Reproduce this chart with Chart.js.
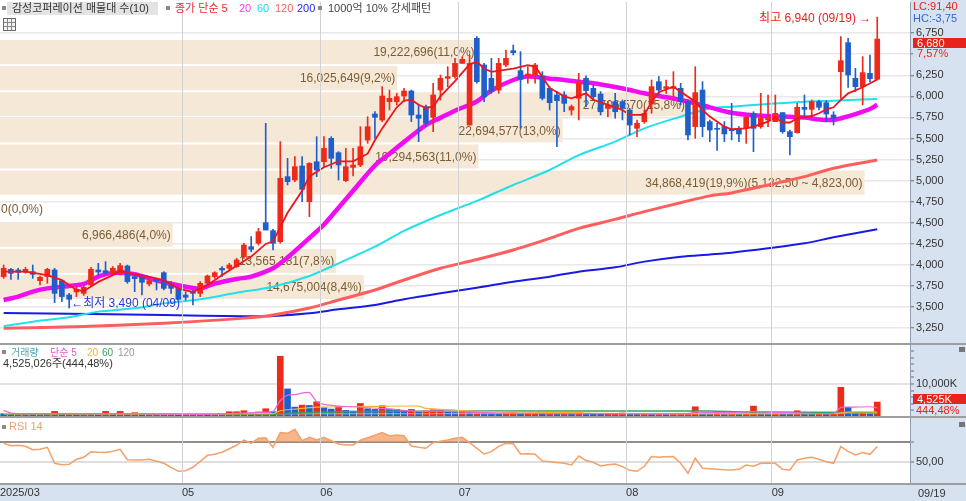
<!DOCTYPE html>
<html lang="ko"><head><meta charset="utf-8"><title>감성코퍼레이션</title>
<script src="https://cdn.jsdelivr.net/npm/chart.js@4.4.1/dist/chart.umd.min.js"></script>
<style>
html,body{margin:0;padding:0;background:#fff;}
body{width:966px;height:501px;overflow:hidden;position:relative;font-family:"Liberation Sans","Noto Sans CJK KR",sans-serif;}
.bg{position:absolute;background:#D7E2F0;}
canvas{position:absolute;left:0;}
.sep{position:absolute;left:0;width:966px;height:2px;background:#9e9e9e;}
.t{position:absolute;white-space:nowrap;font-size:11px;line-height:13px;}
.sq{position:absolute;width:4px;height:4px;background:#8a8a8a;}
.box{position:absolute;background:#E8231C;}
</style></head><body>
<div class="bg" style="left:910px;top:0;width:56px;height:501px"></div>
<div class="bg" style="left:0;top:484px;width:966px;height:17px"></div>
<canvas id="cP" width="966" height="344" style="top:0"></canvas>
<canvas id="cV" width="966" height="73" style="top:344px"></canvas>
<canvas id="cR" width="966" height="84" style="top:417px"></canvas>
<div class="sep" style="top:343px"></div>
<div class="sep" style="top:416px"></div>
<div class="sep" style="top:483px"></div>

<div class="sq" style="left:2px;top:6px"></div>
<div class="t" style="left:7px;top:2px;width:151px;height:13px;background:#E3E3E3;"></div>
<div class="t" style="left:12px;top:2px;color:#333">감성코퍼레이션 매물대 수(10)</div>
<div class="sq" style="left:166px;top:6px"></div>
<div class="t" style="left:175px;top:2px;color:#F0282A">종가 단순 5</div>
<div class="t" style="left:239px;top:2px;color:#F43CF4">20</div>
<div class="t" style="left:257px;top:2px;color:#22D8E8">60</div>
<div class="t" style="left:275px;top:2px;color:#F46464">120</div>
<div class="t" style="left:297px;top:2px;color:#2828F0">200</div>
<div class="sq" style="left:318px;top:6px"></div>
<div class="t" style="left:328px;top:2px;color:#444">1000억 10% 강세패턴</div>
<div style="position:absolute;left:3px;top:18px;width:11px;height:11px;border:1px solid #6a6a6a;background:#f2f2f2;background-image:linear-gradient(90deg,transparent 3px,#888 3px,#888 4px,transparent 4px,transparent 7px,#888 7px,#888 8px,transparent 8px),linear-gradient(0deg,transparent 3px,#888 3px,#888 4px,transparent 4px,transparent 7px,#888 7px,#888 8px,transparent 8px);"></div>

<div class="t" style="left:913px;top:0px;color:#E8231C">LC:91,40</div>
<div class="t" style="left:913px;top:12px;color:#2F66D0">HC:-3,75</div>
<div class="box" style="left:913px;top:38px;width:53px;height:10px"></div>
<div class="t" style="left:917px;top:37px;color:#fff;line-height:12px">6,680</div>
<div class="t" style="left:913px;top:48px;width:53px;padding-left:4px;box-sizing:border-box;height:12px;line-height:11px;background:#D7E2F0;color:#E8231C">7,57%</div>

<div class="sq" style="left:2px;top:350px"></div>
<div class="t" style="left:11px;top:346px;font-size:10px;color:#4AA6B4">거래량</div>
<div class="t" style="left:50px;top:346px;font-size:10px;color:#E458D2">단순 5</div>
<div class="t" style="left:87px;top:346px;font-size:10px;color:#F0B43A">20</div>
<div class="t" style="left:102px;top:346px;font-size:10px;color:#3C9E5A">60</div>
<div class="t" style="left:118px;top:346px;font-size:10px;color:#999">120</div>
<div class="t" style="left:3px;top:357px;color:#333">4,525,026주(444,48%)</div>
<div class="box" style="left:913px;top:394px;width:53px;height:10px"></div>
<div class="t" style="left:917px;top:393px;color:#fff;line-height:12px">4,525K</div>
<div class="t" style="left:916px;top:404px;color:#E8231C">444,48%</div>
<div style="position:absolute;left:959px;top:347px;width:6px;height:5px;background:#777"></div>

<div class="sq" style="left:2px;top:425px"></div>
<div class="t" style="left:9px;top:420px;color:#F0A070">RSI 14</div>
<div style="position:absolute;left:959px;top:422px;width:6px;height:5px;background:#777"></div>
<div class="t" style="left:918px;top:487px;color:#333">09/19</div>

<script>
// ---------------- data ----------------
const monthStartIdx = [0, 25, 44, 63, 86, 106];
const monthLabels = ['2025/03', '05', '06', '07', '08', '09'];
const priceTicks = [3250,3500,3750,4000,4250,4500,4750,5000,5250,5500,5750,6000,6250,6500,6750];
const volTicks = [2000,4000,6000,8000,10000,12000,14000,16000,18000,20000];
const volMajorTick = 10000;
const rsiTicks = [50, 70];

const opens = [3862,3949,3941,3917,3921,3814,3862,3941,3814,3644, 3680,3664,3763,3941,3933,3909,3901,3988,3862,3862,
  3775,3830,3909,3763,3723,3644,3684,3664,3783,3862, 3961,3961,3980,4099,4217,4257,4502,4407,4277,5048,
  5008,5174,4751,5225,5225,5502,5332,5000,5158,5186, 5482,5791,5720,5937,5937,6004,6063,5779,5878,5751,
  6075,6214,6234,6391,5660,6688,6372,6214,6075,6372, 6542,6305,6242,6253,6242,6095,6016,6016,5838,5977,
  6214,6095,6028,5858,5937,5937,5838,5621,5700,5909, 6174,6095,6095,6095,5937,5641,6075,5700,5621,5641,
  5609,5609,5621,5799,5641,5720,5700,5807,5581,5569, 5870,5846,5937,5925,5779,6293,6637,6214,6115,6273, 6202];
const highs = [4000,3961,3961,3972,4000,3870,3961,3961,3822,3664, 3743,3751,3972,4020,4040,3980,4020,4000,3882,3870,
  3842,3842,3921,3803,3735,3684,3704,3803,3882,3921, 3980,4020,4079,4257,4336,4435,5680,4423,5463,5265,
  5285,5285,5214,5522,5522,5522,5344,5384,5384,5640, 5759,5818,6115,6075,6036,6095,6075,5898,5898,6155,
  6253,6352,6451,6471,6490,6708,6392,6451,6451,6550, 6609,6530,6352,6392,6293,6115,6056,6056,5898,6273,
  6242,6135,6056,5937,6036,5957,5858,5720,5838,6194, 6234,6194,6293,6155,5957,6352,6174,5720,5680,5700,
  5917,5641,5759,5818,6036,6016,6016,5807,5601,5917, 6016,5957,5957,5949,5818,6708,6688,6332,6471,6490, 6940];
const lows = [3842,3830,3830,3901,3842,3763,3783,3553,3565,3490, 3625,3640,3743,3882,3882,3890,3882,3783,3684,3644,
  3751,3704,3704,3664,3585,3585,3526,3625,3763,3842, 3862,3941,3972,4079,4158,4237,4415,4178,4257,4949,
  4988,4751,4573,5048,5166,5146,5008,4988,5056,5166, 5443,5502,5700,5838,5898,5937,5700,5463,5641,5581,
  5957,6115,6214,6391,5660,6155,5937,6036,6036,6352, 6490,5621,6155,6155,5957,5838,5404,5818,5779,5720,
  5878,5957,5779,5759,5740,5720,5542,5522,5680,5799, 6016,6036,5996,5898,5482,5502,5522,5462,5360,5463,
  5483,5463,5443,5344,5621,5641,5700,5562,5305,5562, 5759,5759,5838,5700,5660,5977,6107,6056,5898,6174, 6194];
const closes = [3961,3901,3913,3949,3889,3854,3949,3664,3625,3593, 3712,3735,3949,3917,3909,3961,3992,3803,3838,3795,
  3814,3814,3723,3723,3593,3617,3664,3783,3870,3909, 3941,4000,4060,4237,4186,4395,4415,4257,5028,4988,
  5166,4897,5206,5127,5384,5265,5186,5166,5186,5403, 5640,5751,6004,5977,5996,6063,5779,5740,5680,6016,
  6214,6234,6391,6439,6391,6174,5996,6056,6391,6451, 6518,6202,6265,6372,5977,5925,5949,5917,5878,6162,
  6068,5996,5818,5898,5818,5858,5660,5680,5799,6115, 6075,6115,6115,5937,5542,6044,5641,5601,5609,5554,
  5593,5554,5751,5621,5739,5739,5799,5581,5522,5870, 5846,5937,5870,5791,5740,6423,6253,6115,6281,6210, 6680];
// volume in thousands of shares
const volK = [1000,800,800,900,800,800,900,1700,800,900, 800,800,900,800,1700,900,1700,900,1300,700,
  700,700,700,700,600,600,700,700,600,700, 700,1600,1600,1900,1000,1500,2500,1600,18400,8500,
  3000,3600,3500,4600,2800,2400,3100,2000,1800,4100, 2500,2300,3400,2400,2300,2000,2300,1600,1800,2200,
  2200,1500,1400,1700,1400,1600,1500,1100,1000,1200, 1300,1000,1000,1100,1000,1100,1000,1000,900,1300,
  1000,900,800,900,1000,1200,900,800,900,800, 900,800,800,800,1100,3100,1000,900,1100,1000,
  1100,900,1000,3300,1100,1000,1100,1000,900,1900, 1200,1000,1000,900,1200,9000,2900,1100,1200,1018, 4525];
const rsi14 = [69,66.5,67,66,62.5,63,65,49,47.5,48, 53,55,60.5,60,59.7,61,63,52.5,52.3,52.3,
  53,51,49,45,41,41.5,45,51,57,58, 60,63.5,67,72.3,69,74,74.5,65,79.7,79,
  83,71.7,75,72.3,75,71.5,68.3,67.3,67.3,72, 74.5,77,79.7,76.3,77.3,76.5,66.3,65,64,69.7,
  71,72.3,74,75,69.7,64,58.3,60.7,66,69, 68.5,58.3,58.5,58,51.3,50.5,49.7,49,47.3,56.3,
  51.7,50,46.3,47.5,48.3,45.7,42,41,46,55.7, 55,55.5,55.7,49,39,54,44,43.5,43,42.5,
  42.3,43,47.3,46,49,49.3,49,43,42.3,52.3, 54,55,53,50.7,49,65.7,61,57.3,59.7,58,65.7];

// moving averages: [candle index, value]
const ma5Pts = [[0,3921],[3,3921],[6,3880],[8,3820],[10,3705],[11,3690],[13,3800],[15,3880],[16,3935],[18,3890],[20,3860],[22,3820],[24,3720],[26,3680],[28,3760],[30,3880],[32,3990],[34,4100],[36,4250],[37,4280],[38,4450],[39,4620],[41,4880],[42,5050],[44,5160],[46,5230],[48,5230],[50,5320],[51,5480],[52,5620],[54,5870],[55,5950],[56,5960],[57,5900],[58,5860],[59,5880],[60,6000],[62,6180],[64,6380],[65,6410],[66,6330],[67,6290],[70,6330],[72,6370],[73,6352],[74,6234],[75,6100],[77,6000],[78,5976],[80,6036],[81,5960],[83,5900],[85,5838],[86,5780],[88,5780],[89,5937],[90,6050],[92,6115],[93,6056],[95,5937],[96,5838],[97,5760],[99,5640],[100,5610],[102,5620],[103,5640],[105,5700],[106,5750],[107,5690],[108,5690],[109,5740],[111,5767],[112,5800],[113,5846],[114,5870],[115,5957],[116,6036],[118,6108],[120,6200]];
const ma20Pts = [[0,3585],[2,3625],[4,3684],[6,3723],[9,3751],[11,3775],[13,3862],[15,3905],[18,3890],[20,3842],[22,3795],[25,3743],[27,3723],[29,3780],[32,3835],[34,3862],[37,3961],[39,4090],[42,4320],[44,4480],[46,4680],[48,4880],[51,5180],[53,5320],[55,5460],[58,5660],[60,5745],[62,5830],[65,5940],[67,6070],[70,6194],[72,6234],[75,6210],[77,6194],[79,6174],[81,6155],[84,6110],[86,6075],[88,6036],[91,5990],[93,5957],[95,5917],[97,5870],[100,5805],[103,5775],[107,5760],[110,5748],[112,5725],[114,5720],[115,5740],[117,5790],[119,5850],[120,5900]];
const ma60Pts = [[0,3275],[4,3328],[9,3380],[13,3447],[18,3486],[22,3545],[27,3593],[32,3670],[37,3743],[42,3870],[46,4020],[51,4217],[55,4405],[60,4593],[65,4760],[70,4949],[75,5127],[79,5304],[84,5463],[88,5621],[93,5759],[97,5855],[100,5878],[105,5909],[110,5937],[114,5949],[120,5969]];
const ma120Pts = [[0,3250],[11,3270],[22,3310],[33,3370],[37,3407],[42,3490],[46,3585],[51,3704],[55,3822],[60,3961],[65,4065],[70,4178],[75,4316],[79,4435],[84,4541],[88,4633],[93,4739],[97,4820],[100,4855],[105,4949],[110,5048],[114,5147],[120,5245]];
const ma200Pts = [[0,3432],[6,3425],[12,3418],[22,3407],[33,3392],[37,3395],[42,3427],[46,3474],[51,3526],[55,3593],[60,3664],[65,3730],[70,3802],[75,3862],[79,3921],[84,3972],[88,4040],[93,4099],[97,4125],[100,4146],[105,4198],[110,4257],[114,4328],[120,4423]];

const vma5Pts = [[0,2000],[1,1200],[4,1000],[18,1000],[27,800],[31,1000],[35,1400],[37,1700],[38,5000],[39,6600],[40,6800],[42,7400],[43,4600],[44,3800],[46,3300],[48,3100],[50,2800],[52,2600],[54,2200],[57,1700],[60,1800],[64,1500],[68,1200],[75,1050],[85,1000],[94,1000],[95,1500],[99,1300],[103,1600],[108,1300],[114,1100],[115,2900],[117,3000],[119,3100],[120,2800]];
const vma20Pts = [[0,1000],[37,1000],[38,1900],[40,2400],[43,3000],[50,3200],[57,3300],[58,2600],[62,2100],[66,1600],[78,1300],[85,1000],[114,1000],[116,1500],[120,1500]];
const vma60Pts = [[0,900],[37,900],[41,1300],[47,1600],[66,1800],[97,1800],[102,1500],[120,1400]];
const vma120Pts = [[0,850],[60,1000],[120,1200]];

// volume-at-price bands (매물대 10)
const vpLow  = [3585, 3894.5, 4204, 4513.5, 4823, 5132.5, 5442, 5751.5, 6061, 6370.5];
const vpHigh = [3894.5, 4204, 4513.5, 4823, 5132.5, 5442, 5751.5, 6061, 6370.5, 6680];
const vpVol  = [14675004, 13565181, 6966486, 0, 34868419, 19294563, 22694577, 27706570, 16025649, 19222696];
const vpPct  = [8.4, 7.8, 4.0, 0.0, 19.9, 11.0, 13.0, 15.8, 9.2, 11.0];
const hiDate = '09/19', loDate = '04/09';

// ---------------- drawing ----------------
const FONT = '"Liberation Sans","Noto Sans CJK KR",sans-serif';
Chart.defaults.font.family = FONT;
const RED = '#EE2A1B', BLUE = '#1F5FCC';
const X_MIN = -0.5, X_MAX = 124.5;
const fmt = n => Math.round(n).toLocaleString('en-US');
const fmtDec = (n, d) => { const [ip, dp] = n.toFixed(d).split('.'); return Number(ip).toLocaleString('en-US') + ',' + dp; };
const pts = arr => arr.map(([x, y]) => ({x, y}));
const candleColors = opens.map((o, i) => closes[i] >= o ? RED : BLUE);
const volColors = volK.map((v, i) => (i > 0 && v >= volK[i - 1]) ? RED : BLUE);
const noPad = s => { s.paddingLeft = 0; s.paddingRight = 0; s.paddingTop = 0; s.paddingBottom = 0; };

function xAxis(showLabels) {
  const vals = monthStartIdx.map(i => i - 0.5);
  return {
    type: 'linear', min: X_MIN, max: X_MAX, offset: false,
    afterBuildTicks: s => { s.ticks = vals.map(v => ({value: v})); },
    afterFit: s => { s.height = showLabels ? 18 : 0; noPad(s); },
    grid: { offset: false, drawTicks: false, z: 1, lineWidth: 1,
      color: c => (c.tick && c.tick.value > X_MIN) ? '#d2d2d2' : 'rgba(0,0,0,0)' },
    border: { display: false },
    ticks: { display: showLabels, autoSkip: false, maxRotation: 0, align: 'start', padding: 3,
      color: '#333', font: {size: 11}, callback: (v, i) => monthLabels[i] }
  };
}
function yAxis(min, max, tickVals, labelFn, gridColor, gridWidth) {
  return {
    position: 'right', min, max,
    afterBuildTicks: s => { s.ticks = tickVals.map(v => ({value: v})); },
    afterFit: s => { s.width = 56; noPad(s); },
    grid: { color: gridColor, lineWidth: gridWidth, drawTicks: true, tickLength: 4, tickColor: '#6d6d6d', tickWidth: 1 },
    border: { display: true, color: '#8f9cb0', width: 1 },
    ticks: { autoSkip: false, padding: 2, color: '#333', font: {size: 11}, callback: labelFn }
  };
}
const common = { responsive: false, animation: false, events: [],
  plugins: { legend: { display: false }, tooltip: { enabled: false } } };

const vpPlugin = {
  id: 'vp',
  beforeDatasetsDraw(chart) {
    const {ctx, chartArea: a, scales: {y}} = chart;
    const maxV = Math.max(...vpVol);
    ctx.save();
    ctx.beginPath(); ctx.rect(a.left, a.top, a.right - a.left, a.bottom - a.top); ctx.clip();
    ctx.font = '12px ' + FONT; ctx.textBaseline = 'middle';
    vpVol.forEach((v, k) => {
      const yTop = y.getPixelForValue(vpHigh[k]) + 1;
      const yBot = y.getPixelForValue(vpLow[k]) - 1;
      const w = v / maxV * 0.95 * (a.right - a.left);
      if (w > 0) { ctx.fillStyle = '#F6E8D6'; ctx.fillRect(a.left, yTop, w, yBot - yTop); }
      let label = fmt(v) + '(' + fmtDec(vpPct[k], 1) + '%)';
      if (v === maxV) label += '(' + fmtDec(vpHigh[k], 2) + ' ~ ' + fmtDec(vpLow[k], 2) + ')';
      const tw = ctx.measureText(label).width;
      ctx.fillStyle = '#7C5C34';
      const ym = (yTop + yBot) / 2 + 1;
      if (w > tw + 4) { ctx.textAlign = 'right'; ctx.fillText(label, a.left + w - 2, ym); }
      else { ctx.textAlign = 'left'; ctx.fillText(label, a.left + 1, ym); }
    });
    ctx.restore();
  }
};
const hiLoPlugin = {
  id: 'hilo',
  afterDraw(chart) {
    const {ctx, scales: {x, y}} = chart;
    const hi = Math.max(...highs), hiI = highs.indexOf(hi);
    const lo = Math.min(...lows), loI = lows.indexOf(lo);
    ctx.save(); ctx.font = '12px ' + FONT; ctx.textBaseline = 'middle';
    ctx.fillStyle = '#E8231C'; ctx.textAlign = 'right';
    ctx.fillText('최고 ' + fmt(hi) + ' (' + hiDate + ') →', x.getPixelForValue(hiI) - 6, y.getPixelForValue(hi) + 2);
    ctx.fillStyle = '#2A35D8'; ctx.textAlign = 'left';
    ctx.fillText('←최저 ' + fmt(lo) + ' (' + loDate + ')', x.getPixelForValue(loI) + 2, y.getPixelForValue(lo) - 4);
    ctx.restore();
  }
};
const lineDs = (data, color, width, order, tension) => ({ type: 'line', data: pts(data), borderColor: color,
  borderWidth: width, pointRadius: 0, tension: tension, order: order, fill: false });

// price panel
new Chart(document.getElementById('cP'), {
  type: 'bar',
  data: { datasets: [
    lineDs(ma5Pts, '#F0141E', 1.8, 1, 0),
    { type: 'bar', data: opens.map((o, i) => ({x: i, y: [o, closes[i]]})), backgroundColor: candleColors,
      barThickness: 5, grouped: false, minBarLength: 1, order: 4 },
    { type: 'bar', data: lows.map((l, i) => ({x: i, y: [l, highs[i]]})), backgroundColor: candleColors,
      barThickness: 1, grouped: false, order: 5 },
    lineDs(ma20Pts, '#F20CF2', 4.5, 6, 0.3),
    lineDs(ma60Pts, '#22E0EA', 2, 7, 0.3),
    lineDs(ma120Pts, '#FF5E5E', 3, 8, 0.3),
    lineDs(ma200Pts, '#1A1AE6', 2, 9, 0.3)
  ]},
  options: Object.assign({}, common, {
    layout: { padding: { top: 2, bottom: 1, left: 0, right: 0 } },
    scales: {
      x: xAxis(false),
      y: yAxis(3075, 7119, priceTicks, v => fmt(v), '#e8e8e8', 1.5)
    }
  }),
  plugins: [vpPlugin, hiLoPlugin]
});

// volume panel
new Chart(document.getElementById('cV'), {
  type: 'bar',
  data: { datasets: [
    lineDs(vma5Pts, '#EE66DD', 1.2, 1, 0.2),
    lineDs(vma20Pts, '#F5B530', 1.2, 2, 0.2),
    lineDs(vma60Pts, '#3C9E5A', 1.5, 3, 0.2),
    lineDs(vma120Pts, '#B4B4B4', 1, 4, 0.2),
    { type: 'bar', data: volK.map((v, i) => ({x: i, y: v})), backgroundColor: volColors,
      barThickness: 6, grouped: false, order: 5 }
  ]},
  options: Object.assign({}, common, {
    layout: { padding: { top: 1, bottom: 0, left: 0, right: 0 } },
    scales: {
      x: xAxis(false),
      y: yAxis(0, 21800, volTicks, v => v === volMajorTick ? fmt(v) + 'K' : '',
        c => c.tick && c.tick.value === volMajorTick ? '#e2e2e2' : 'rgba(0,0,0,0)', 2)
    }
  })
});

// RSI panel
new Chart(document.getElementById('cR'), {
  type: 'line',
  data: { datasets: [
    { data: rsi14.map((v, i) => ({x: i, y: v})), borderColor: '#F4A06A', borderWidth: 1.5, pointRadius: 0,
      tension: 0, fill: { target: { value: 70 }, above: 'rgba(242,158,100,0.75)', below: 'rgba(0,0,0,0)' } }
  ]},
  options: Object.assign({}, common, {
    layout: { padding: { top: 1, bottom: 0, left: 0, right: 0 } },
    scales: {
      x: xAxis(true),
      y: yAxis(29.3, 94.3, rsiTicks, v => v === 50 ? fmtDec(v, 2) : '',
        c => c.tick && c.tick.value === 70 ? '#8c8c8c' : '#dedede', 2)
    }
  })
});
</script>
</body></html>
